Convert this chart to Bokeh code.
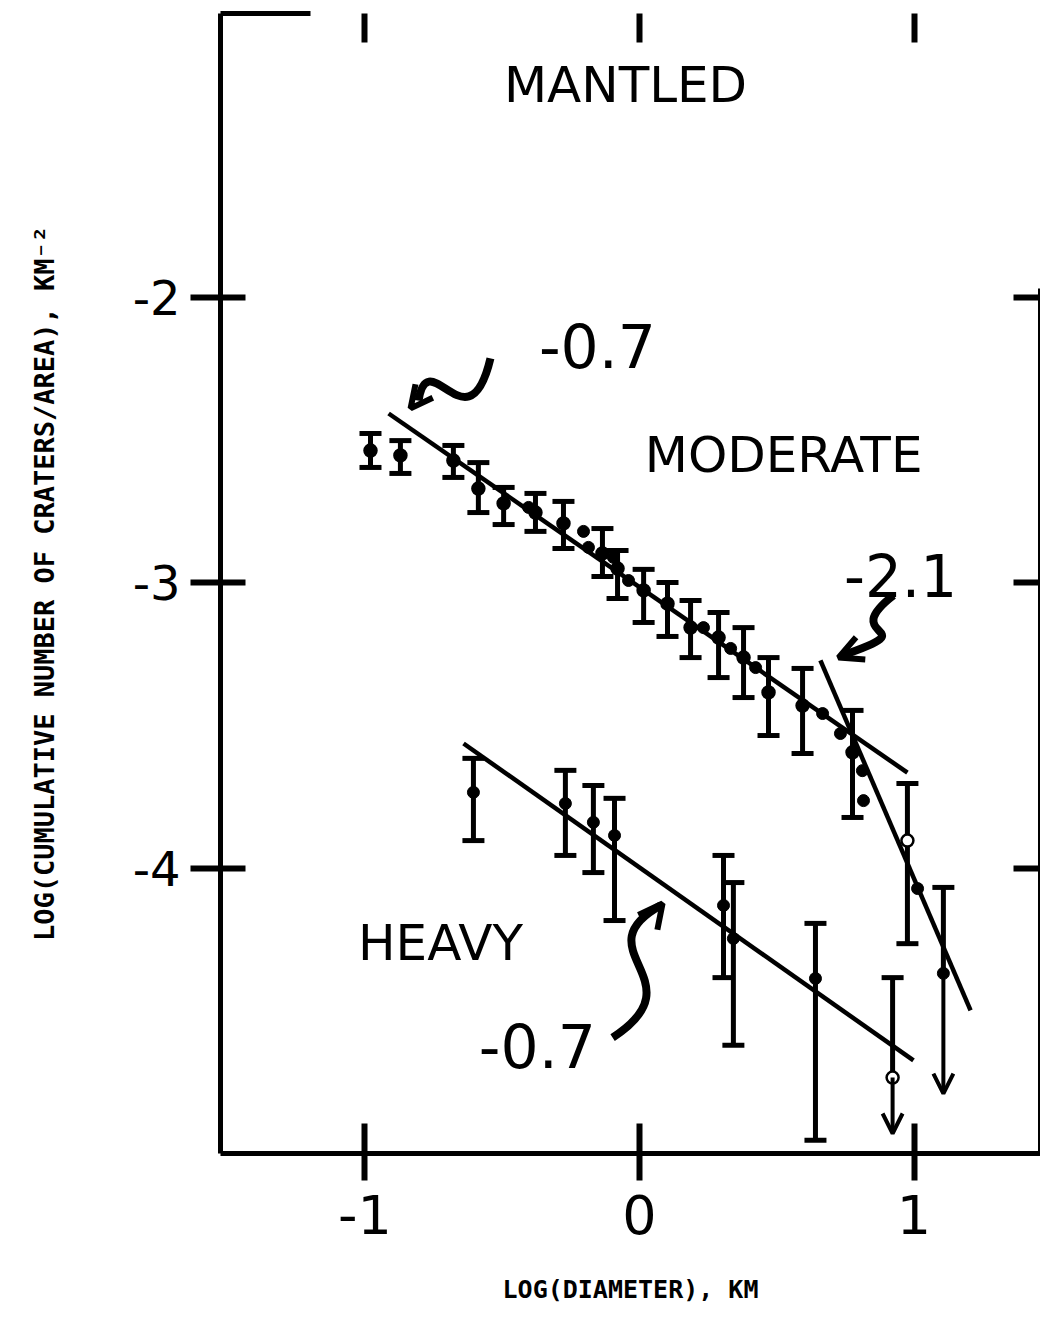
from bokeh.plotting import figure
from bokeh.models import (Range1d, LinearAxis, FixedTicker, Whisker, TeeHead, Arrow,
                          OpenHead, Label, ColumnDataSource, CustomJSTickFormatter)
from bokeh.embed import file_html
from bokeh.resources import INLINE

# ---------------- data ----------------
x_ticks = [-1, 0, 1]
x_tick_labels = ["-1", "0", "1"]
y_ticks = [-4, -3, -2]
y_tick_labels = ["-4", "-3", "-2"]

# MODERATE terrain: log D, log N and error-bar ends
mod_x = [-0.980, -0.871, -0.678, -0.587, -0.495, -0.379, -0.277, -0.135, -0.080,
         0.015, 0.102, 0.186, 0.288, 0.379, 0.470, 0.594, 0.776, 0.976]
mod_y = [-2.538, -2.555, -2.573, -2.671, -2.723, -2.755, -2.793, -2.898, -2.951,
         -3.028, -3.074, -3.158, -3.193, -3.263, -3.385, -3.431, -3.595, -3.904]
mod_hi = [-2.478, -2.503, -2.520, -2.580, -2.667, -2.688, -2.716, -2.811, -2.888,
          -2.954, -3.000, -3.063, -3.105, -3.158, -3.263, -3.301, -3.448, -3.704]
mod_lo = [-2.597, -2.618, -2.632, -2.755, -2.797, -2.821, -2.881, -2.979, -3.056,
          -3.140, -3.189, -3.263, -3.333, -3.403, -3.536, -3.599, -3.823, -4.265]
mod_open = [False] * 17 + [True]

# MODERATE: extra points plotted without error bars
mod_dot_x = [-0.404, -0.204, -0.186, -0.095, -0.040, 0.233, 0.332, 0.423,
             0.667, 0.732, 0.812, 0.816, 1.013]
mod_dot_y = [-2.737, -2.821, -2.877, -2.912, -2.993, -3.158, -3.231, -3.298,
             -3.459, -3.529, -3.659, -3.764, -4.072]

# MODERATE: upper limit
mod_lim_x = [1.107]
mod_lim_y = [-4.369]
mod_lim_hi = [-4.068]
mod_lim_end = [-4.790]

# HEAVY terrain
hv_x = [-0.605, -0.270, -0.168, -0.091, 0.306, 0.342, 0.641]
hv_y = [-3.735, -3.774, -3.840, -3.886, -4.131, -4.247, -4.387]
hv_hi = [-3.616, -3.658, -3.711, -3.756, -3.956, -4.051, -4.194]
hv_lo = [-3.904, -3.956, -4.016, -4.184, -4.384, -4.621, -4.954]

hv_lim_x = [0.922]
hv_lim_y = [-4.734]
hv_lim_hi = [-4.384]
hv_lim_end = [-4.930]

# fitted power-law lines (end points)
fit_mod_x = [-0.914, 0.976]
fit_mod_y = [-2.408, -3.666]
fit_steep_x = [0.659, 1.206]
fit_steep_y = [-3.273, -4.499]
fit_hv_x = [-0.641, 0.998]
fit_hv_y = [-3.564, -4.674]

X_START, X_END = -1.5264, 1.4608
Y_START, Y_END = -5.0, -1.007

# ---------------- figure ----------------
p = figure(width=1040, height=1306, output_backend="svg", toolbar_location=None,
           x_range=Range1d(X_START, X_END), y_range=Range1d(Y_START, Y_END),
           x_axis_location=None, y_axis_location=None,
           min_border_left=220, min_border_right=0, min_border_top=13,
           min_border_bottom=153)
p.xgrid.visible = False
p.ygrid.visible = False
p.outline_line_color = None
p.background_fill_color = "white"
p.border_fill_color = "white"

BLACK = "black"
NUM_FONT = "DejaVu Sans"
MONO = "DejaVu Sans Mono"
empty_fmt = CustomJSTickFormatter(code="return ''")

# bottom axis
ax_b = LinearAxis(ticker=FixedTicker(ticks=x_ticks), axis_label="LOG(DIAMETER), KM")
ax_b.major_label_overrides = dict(zip(x_ticks, x_tick_labels))
ax_b.axis_line_width = 5
ax_b.axis_line_color = BLACK
ax_b.major_tick_line_width = 6
ax_b.major_tick_in = 30
ax_b.major_tick_out = 27
ax_b.major_label_text_font = NUM_FONT
ax_b.major_label_text_font_size = "54px"
ax_b.major_label_text_color = BLACK
ax_b.major_label_standoff = 14
ax_b.axis_label_text_font = MONO
ax_b.axis_label_text_font_style = "bold"
ax_b.axis_label_text_font_size = "25px"
ax_b.axis_label_text_color = BLACK
ax_b.axis_label_standoff = 38
p.add_layout(ax_b, "below")

# left axis
ax_l = LinearAxis(ticker=FixedTicker(ticks=y_ticks),
                  axis_label="LOG(CUMULATIVE NUMBER OF CRATERS/AREA), KM\u207b\u00b2")
ax_l.major_label_overrides = dict(zip(y_ticks, y_tick_labels))
ax_l.axis_line_width = 5
ax_l.axis_line_color = BLACK
ax_l.major_tick_line_width = 6
ax_l.major_tick_in = 25
ax_l.major_tick_out = 30
ax_l.major_label_text_font = NUM_FONT
ax_l.major_label_text_font_size = "48px"
ax_l.major_label_text_color = BLACK
ax_l.major_label_standoff = 10
ax_l.axis_label_text_font = MONO
ax_l.axis_label_text_font_style = "bold"
ax_l.axis_label_text_font_size = "27px"
ax_l.axis_label_text_color = BLACK
ax_l.axis_label_standoff = 70
p.add_layout(ax_l, "left")

# right axis: partial spine with inward ticks
ax_r = LinearAxis(ticker=FixedTicker(ticks=y_ticks), formatter=empty_fmt,
                  bounds=(Y_START, -1.97))
ax_r.axis_line_width = 5
ax_r.axis_line_color = BLACK
ax_r.major_tick_line_width = 6
ax_r.major_tick_in = 27
ax_r.major_tick_out = 0
ax_r.major_label_text_font_size = "1px"
ax_r.major_label_standoff = 0
p.add_layout(ax_r, "right")

# top: short frame piece at left, and inward ticks
ax_t1 = LinearAxis(ticker=FixedTicker(ticks=[]), formatter=empty_fmt,
                   bounds=(X_START, -1.20))
ax_t1.axis_line_width = 5
ax_t1.axis_line_color = BLACK
ax_t1.major_tick_out = 0
ax_t1.major_tick_in = 0
ax_t1.major_label_text_font_size = "1px"
ax_t1.major_label_standoff = 0
p.add_layout(ax_t1, "above")

ax_t2 = LinearAxis(ticker=FixedTicker(ticks=x_ticks), formatter=empty_fmt)
ax_t2.axis_line_alpha = 0
ax_t2.major_tick_line_width = 6
ax_t2.major_tick_in = 29
ax_t2.major_tick_out = 0
ax_t2.major_label_text_font_size = "1px"
ax_t2.major_label_standoff = 0
p.add_layout(ax_t2, "above")

# ---------------- fit lines ----------------
for fx, fy in ((fit_mod_x, fit_mod_y), (fit_steep_x, fit_steep_y), (fit_hv_x, fit_hv_y)):
    p.line(fx, fy, line_color=BLACK, line_width=4.5)

# ---------------- error bars ----------------
def add_bars(xs, lo, hi):
    src = ColumnDataSource(dict(x=xs, lo=lo, hi=hi))
    w = Whisker(base="x", lower="lo", upper="hi", source=src, line_width=5,
                line_color=BLACK,
                upper_head=TeeHead(size=22, line_width=5, line_color=BLACK),
                lower_head=TeeHead(size=22, line_width=5, line_color=BLACK))
    p.add_layout(w)

add_bars(mod_x, mod_lo, mod_hi)
add_bars(hv_x, hv_lo, hv_hi)

# upper limits: bar from cap to point, then an arrow downward
def add_limit(xs, ys, hi, end):
    src = ColumnDataSource(dict(x=xs, y=ys, hi=hi, end=end))
    w = Whisker(base="x", lower="y", upper="hi", source=src, line_width=5,
                line_color=BLACK,
                upper_head=TeeHead(size=22, line_width=5, line_color=BLACK),
                lower_head=None)
    p.add_layout(w)
    a = Arrow(x_start="x", y_start="y", x_end="x", y_end="end", source=src,
              line_width=4, line_color=BLACK,
              end=OpenHead(size=20, line_width=4, line_color=BLACK))
    p.add_layout(a)
    return src

add_limit(mod_lim_x, mod_lim_y, mod_lim_hi, mod_lim_end)
add_limit(hv_lim_x, hv_lim_y, hv_lim_hi, hv_lim_end)

# ---------------- points ----------------
mod_fill = ["white" if o else BLACK for o in mod_open]
p.scatter(mod_x, mod_y, size=12, fill_color=mod_fill, line_color=BLACK, line_width=2.5)
p.scatter(mod_dot_x, mod_dot_y, size=12, fill_color=BLACK, line_color=BLACK)
p.scatter(hv_x, hv_y, size=12, fill_color=BLACK, line_color=BLACK)
p.scatter(hv_lim_x, hv_lim_y, size=12, fill_color="white", line_color=BLACK, line_width=2.5)
p.scatter(mod_lim_x, mod_lim_y, size=12, fill_color=BLACK, line_color=BLACK)

# ---------------- hand-drawn annotation arrows ----------------
STROKE = 8
# upper "-0.7" squiggle
p.bezier(x0=[-0.543], y0=[-2.215], x1=[-0.805], y1=[-2.363],
         cx0=[-0.623], cy0=[-2.538], cx1=[-0.769], cy1=[-2.152],
         line_color=BLACK, line_width=STROKE)
p.add_layout(Arrow(x_start=-0.785, y_start=-2.330, x_end=-0.834, y_end=-2.390,
                   line_alpha=0, end=OpenHead(size=22, line_width=6, line_color=BLACK)))
# "-2.1" squiggle
p.bezier(x0=[0.925], y0=[-3.045], x1=[0.740], y1=[-3.255],
         cx0=[0.714], cy0=[-3.203], cx1=[1.060], cy1=[-3.150],
         line_color=BLACK, line_width=STROKE)
p.add_layout(Arrow(x_start=0.805, y_start=-3.231, x_end=0.725, y_end=-3.263,
                   line_alpha=0, end=OpenHead(size=24, line_width=6, line_color=BLACK)))
# lower "-0.7" squiggle
p.bezier(x0=[-0.098], y0=[-4.594], x1=[0.0765], y1=[-4.131],
         cx0=[0.222], cy0=[-4.394], cx1=[-0.215], cy1=[-4.289],
         line_color=BLACK, line_width=STROKE)
p.add_layout(Arrow(x_start=0.022, y_start=-4.201, x_end=0.084, y_end=-4.124,
                   line_alpha=0, end=OpenHead(size=24, line_width=6, line_color=BLACK)))

# ---------------- text labels ----------------
def add_text(x, y, text, size):
    p.add_layout(Label(x=x, y=y, text=text, text_align="center", text_baseline="middle",
                       text_font=NUM_FONT, text_font_size=size, text_color=BLACK))

add_text(-0.051, -1.259, "MANTLED", "50px")
add_text(0.525, -2.555, "MODERATE", "50px")
add_text(-0.725, -4.261, "HEAVY", "50px")
add_text(-0.153, -2.170, "-0.7", "60px")
add_text(0.951, -2.975, "-2.1", "58px")
add_text(-0.372, -4.622, "-0.7", "60px")

open("out.html", "w").write(file_html(p, INLINE))
